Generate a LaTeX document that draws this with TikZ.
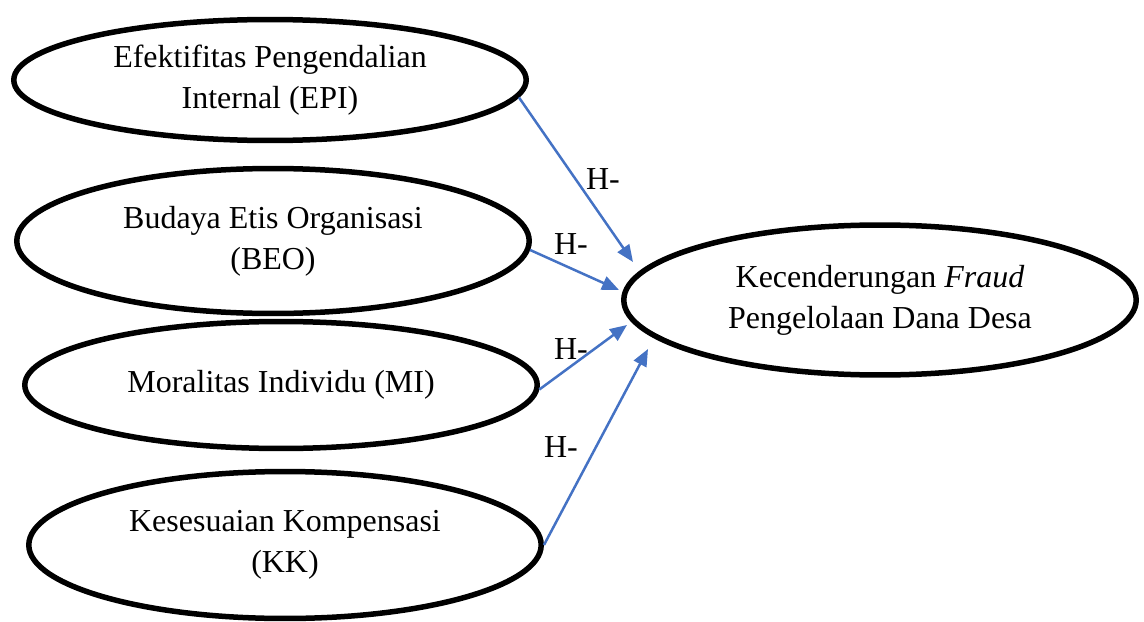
\documentclass[tikz,border=0pt]{standalone}
\usepackage{fontspec}
\setmainfont{Liberation Serif}
\usetikzlibrary{shapes.geometric,arrows.meta}
\definecolor{linkblue}{RGB}{68,114,196}
\tikzset{
    var/.style={ellipse, draw, line width=0.11cm, align=center, inner sep=0pt,
        minimum width=10.25cm, font=\fontsize{18.2}{23.5}\selectfont},
    link/.style={linkblue, line width=0.05cm, -{Triangle[length=0.34cm,width=0.28cm]}},
    hyp/.style={font=\fontsize{18.2}{20}\selectfont, inner sep=0pt}
}
\begin{document}
\begin{tikzpicture}[x=0.02cm,y=-0.02cm]
    \useasboundingbox (0,0) rectangle (1144,622);

    \node [var, minimum height=2.42cm] (EPI) at (270,80)  {Efektifitas Pengendalian\\Internal (EPI)};
    \node [var, minimum height=2.9cm]  (BEO) at (273,241) {Budaya Etis Organisasi\\(BEO)};
    \node [var, minimum height=2.54cm] (MI)  at (281,385) {Moralitas Individu (MI)};
    \node [var, minimum height=2.94cm] (KK)  at (285,545) {Kesesuaian Kompensasi\\(KK)};
    \node [var, minimum height=3cm]    (KF)  at (880,300) {Kecenderungan \textit{Fraud}\\Pengelolaan Dana Desa};

    \coordinate (t1) at (633,262);
    \coordinate (t2) at (619,290);
    \coordinate (t3) at (627,325);
    \coordinate (t4) at (648,349);

    \foreach \from/\to/\ang in {EPI/t1/-4, BEO/t2/-2, MI/t3/-1, KK/t4/0} {
        \draw [link] (\from.\ang) -- (\to);
    }

    \node [hyp] (h1) at (603,179) {H-};
    \node [hyp] (h2) at (571,244) {H-};
    \node [hyp] (h3) at (571,349) {H-};
    \node [hyp] (h4) at (561,447) {H-};
\end{tikzpicture}
\end{document}
